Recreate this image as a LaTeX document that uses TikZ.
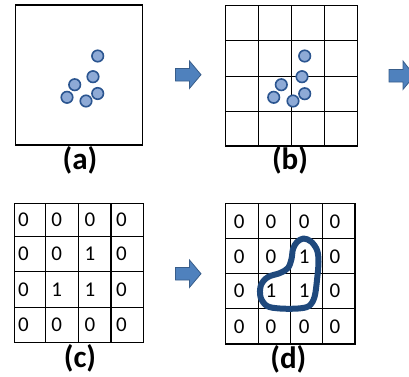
\documentclass[tikz,border=0pt]{standalone}
\usepackage{fontspec}
\setmainfont{Carlito}
\definecolor{arrfill}{HTML}{4F81BD}
\definecolor{arrline}{HTML}{385D8A}
\definecolor{dotfill}{HTML}{8EAAD6}
\definecolor{dotline}{HTML}{2B5590}
\definecolor{blobcol}{HTML}{1F497D}
\begin{document}
\begin{tikzpicture}[x=1pt,y=-1pt,
  dot/.style={circle,draw=dotline,fill=dotfill,line width=1.6pt,minimum size=11.5pt,inner sep=0pt},
  frame/.style={draw=black,line width=1.4pt},
  gridline/.style={draw=black,line width=1.1pt},
  lbl/.style={font=\fontsize{31}{33}\selectfont\bfseries,inner sep=0pt},
  digit/.style={font=\fontsize{21}{23}\selectfont,inner sep=0pt},
  bigarrow/.style={fill=arrfill,draw=arrline,line width=0.8pt}]
\useasboundingbox (0,0) rectangle (409,376);
\clip (0,0) rectangle (409,376);

% ---------- panel (a)
\draw[frame] (15.5,5) rectangle (142.5,145);
\node[dot] (a1) at (97.7,56) {};
\node[dot] (a2) at (93,76.7) {};
\node[dot] (a3) at (74.7,84.7) {};
\node[dot] (a4) at (67,97.3) {};
\node[dot] (a5) at (86,101) {};
\node[dot] (a6) at (97.7,93.5) {};
\node[lbl] (la) at (80,160.5) {(a)};

% arrow 1
\draw[bigarrow] (175.5,68.5) -- (189.5,68.5) -- (189.5,61) -- (201,74.7) -- (189.5,88.4) -- (189.5,81) -- (175.5,81) -- cycle;

% ---------- panel (b)
\foreach \x in {258.7,291.7,324.3} \draw[gridline] (\x,5.3) -- (\x,146);
\foreach \y in {40.3,76.3,111.3} \draw[gridline] (225.7,\y) -- (357.3,\y);
\draw[frame] (225.7,5.3) rectangle (357.3,146);
\node[dot] (b1) at (304.7,56) {};
\node[dot] (b2) at (302,76.7) {};
\node[dot] (b3) at (281.3,84.7) {};
\node[dot] (b4) at (273.7,97.3) {};
\node[dot] (b5) at (293,101) {};
\node[dot] (b6) at (304.7,93.7) {};
\node[lbl] (lb) at (290,160.5) {(b)};

% arrow 2 (clipped at right edge)
\draw[bigarrow] (389,69.5) -- (403,69.5) -- (403,61) -- (414.5,75.7) -- (403,89.4) -- (403,82) -- (389,82) -- cycle;

% ---------- panel (c)
\foreach \x in {45.3,78.7,111} \draw[gridline] (\x,203.3) -- (\x,342.3);
\draw[gridline,line width=1.6pt] (45.3,203.3) -- (45.3,342.3);
\foreach \y in {236.7,271.7,307.3} \draw[gridline] (14.7,\y) -- (143.3,\y);
\draw[frame] (14.7,203.3) rectangle (143.3,342.3);
\foreach \row/\yy/\va/\vb/\vc/\vd in {1/220/0/0/0/0,2/254.2/0/0/1/0,3/289.5/0/1/1/0,4/324.8/0/0/0/0}{
  \node[digit] (c\row1) at (23.5,\yy) {\va};
  \node[digit] (c\row2) at (56.7,\yy) {\vb};
  \node[digit] (c\row3) at (90,\yy) {\vc};
  \node[digit] (c\row4) at (121.5,\yy) {\vd};
}
\node[lbl] (lc) at (80,358.5) {(c)};

% arrow 3
\draw[bigarrow] (175.5,267.5) -- (189.5,267.5) -- (189.5,260) -- (201,273.7) -- (189.5,287.4) -- (189.5,280) -- (175.5,280) -- cycle;

% ---------- panel (d)
\foreach \x in {258.7,290.7,322.7} \draw[gridline] (\x,203.3) -- (\x,344);
\foreach \y in {238.3,273.3,308.3} \draw[gridline] (225.7,\y) -- (355,\y);
\draw[frame] (225.7,203.3) rectangle (355,344);
\foreach \row/\yy/\va/\vb/\vc/\vd in {1/221.7/0/0/0/0,2/256.7/0/0/1/0,3/291/0/1/1/0,4/326.7/0/0/0/0}{
  \node[digit] (d\row1) at (239.3,\yy) {\va};
  \node[digit] (d\row2) at (271,\yy) {\vb};
  \node[digit] (d\row3) at (304.3,\yy) {\vc};
  \node[digit] (d\row4) at (335,\yy) {\vd};
}
\node[lbl] (ld) at (288.3,359.5) {(d)};

\draw[blobcol,line width=6pt,line join=round]
  plot[smooth cycle,tension=0.55] coordinates {
   (303.5,238.5) (311,241.5) (317,250) (318.5,262) (317,280) (314.5,297)
   (309,306) (298,308.5) (280,308.5) (267,306) (260.5,297) (261,285)
   (268,277) (280,273) (288,268) (291.5,259) (293,249) (297,242)};
\end{tikzpicture}
\end{document}
